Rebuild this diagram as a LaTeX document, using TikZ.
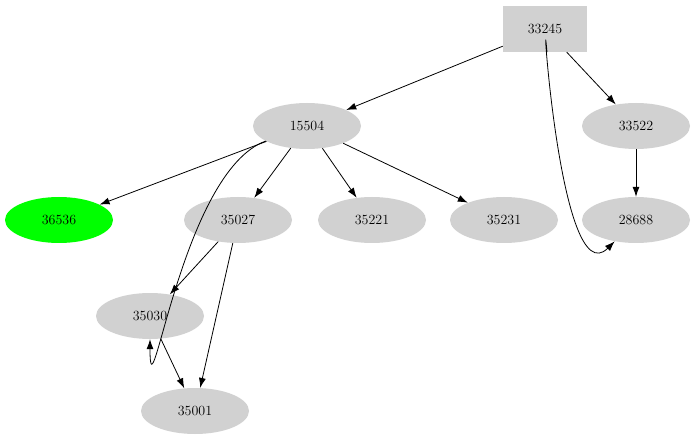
\documentclass[tikz,border=0pt]{standalone}
\usepackage{tikz}
\usetikzlibrary{shapes.geometric,arrows.meta}
\tikzset{
  vert/.style={ellipse, fill=black!18, minimum width=108pt, minimum height=46pt, inner sep=0pt},
  edge/.style={-{Latex[length=10pt,width=7pt]}, line width=0.8pt}
}
\begin{document}
\begin{tikzpicture}[x=1pt,y=-1pt,font=\fontsize{14}{16}\selectfont]
  \useasboundingbox (0,0) rectangle (695,443);
  \node[rectangle, fill=black!18, minimum width=84pt, minimum height=46pt] (n33245) at (545,29) {33245};
  \node[vert] (n15504) at (307,126) {15504};
  \node[vert] (n33522) at (636,126) {33522};
  \node[vert, fill=green] (n36536) at (59,220) {36536};
  \node[vert] (n35027) at (238,220) {35027};
  \node[vert] (n35221) at (372,220) {35221};
  \node[vert] (n35231) at (504,220) {35231};
  \node[vert] (n28688) at (636,220) {28688};
  \node[vert] (n35030) at (150,316) {35030};
  \node[vert] (n35001) at (195,411) {35001};

  \draw[edge] (n33245) -- (n15504);
  \draw[edge] (n33245) -- (n33522);
  \draw[edge] (n33245.south) ++(2,0) to[out=95,in=-135] (n28688);
  \draw[edge] (n33522) -- (n28688);
  \draw[edge] (n15504) -- (n36536);
  \draw[edge] (n15504) to[out=-160,in=-90] (n35030);
  \draw[edge] (n15504) -- (n35027);
  \draw[edge] (n15504) -- (n35221);
  \draw[edge] (n15504) -- (n35231);
  \draw[edge] (n35027) -- (n35030);
  \draw[edge] (n35027) -- (n35001);
  \draw[edge] (n35030) -- (n35001);
\end{tikzpicture}
\end{document}
